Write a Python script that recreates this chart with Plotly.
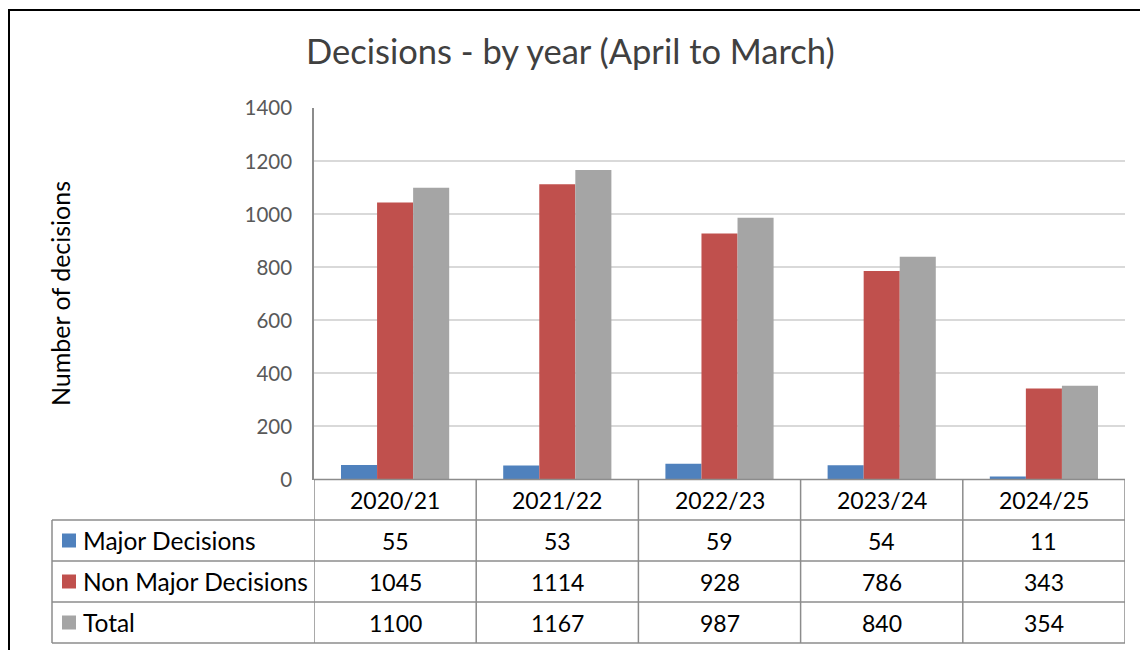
import plotly.graph_objects as go

categories = ["2020/21", "2021/22", "2022/23", "2023/24", "2024/25"]
series_names = ["Major Decisions", "Non Major Decisions", "Total"]
major = [55, 53, 59, 54, 11]
non_major = [1045, 1114, 928, 786, 343]
total = [1100, 1167, 987, 840, 354]
colors = ["#4F81BD", "#C0504D", "#A5A5A5"]
y_ticks = [0, 200, 400, 600, 800, 1000, 1200, 1400]

OFF = 8  # page body margin
W, H = 1148 - OFF, 650 - OFF
FONT = "Lato"

def px(x):
    return (x - OFF) / W

def py(y):
    return 1 - (y - OFF) / H

plot_left, plot_right = 314, 1125
plot_top, plot_bottom = 108.3, 479.5
row_lines = [479.5, 520, 561, 602, 643]
table_left = 52
grid_col = "#8C8C8C"

fig = go.Figure()
all_series = [major, non_major, total]
for name, vals, col in zip(series_names, all_series, colors):
    fig.add_trace(go.Bar(x=categories, y=vals, name=name, marker=dict(color=col, line=dict(width=0))))

shapes = []
annotations = []

# outer frame
shapes.append(dict(type="rect", xref="paper", yref="paper", x0=px(9), x1=px(1170), y0=py(10), y1=py(700),
                   line=dict(color="black", width=2), fillcolor="rgba(0,0,0,0)", layer="above"))

# table horizontal lines
shapes.append(dict(type="line", xref="x", yref="paper", x0=-0.5, x1=len(categories) - 0.5,
                   y0=py(row_lines[0]), y1=py(row_lines[0]), line=dict(color=grid_col, width=1.5)))
for yy in row_lines[1:]:
    shapes.append(dict(type="line", xref="paper", yref="paper", x0=px(table_left), x1=px(plot_right),
                       y0=py(yy), y1=py(yy), line=dict(color=grid_col, width=1.5)))
shapes.append(dict(type="line", xref="paper", yref="paper", x0=px(table_left), x1=px(table_left),
                   y0=py(row_lines[1]), y1=py(row_lines[-1]), line=dict(color=grid_col, width=1.5)))
for i in range(len(categories) + 1):
    shapes.append(dict(type="line", xref="x", yref="paper", x0=i - 0.5, x1=i - 0.5,
                       y0=py(row_lines[0]), y1=py(row_lines[-1]), line=dict(color=grid_col, width=1.5)))

for c in categories:
    annotations.append(dict(x=c, xref="x", y=py((row_lines[0] + row_lines[1]) / 2), yref="paper",
                            text=c, showarrow=False, font=dict(family=FONT, size=23, color="black"),
                            xanchor="center", yanchor="middle"))
for r, (name, vals, col) in enumerate(zip(series_names, all_series, colors)):
    yc = (row_lines[r + 1] + row_lines[r + 2]) / 2
    shapes.append(dict(type="rect", xref="paper", yref="paper", x0=px(62), x1=px(76),
                       y0=py(yc - 7), y1=py(yc + 7), fillcolor=col, line=dict(width=0)))
    annotations.append(dict(x=px(81), xref="paper", y=py(yc), yref="paper", text=name, showarrow=False,
                            font=dict(family=FONT, size=24.5, color="black"), xanchor="left", yanchor="middle"))
    for c, v in zip(categories, vals):
        annotations.append(dict(x=c, xref="x", y=py(yc), yref="paper", text=str(v), showarrow=False,
                                font=dict(family=FONT, size=23, color="black"),
                                xanchor="center", yanchor="middle"))

annotations.append(dict(x=px(570), xref="paper", y=py(50), yref="paper", text="Decisions - by year (April to March)",
                        showarrow=False, font=dict(family=FONT, size=34.5, color="#404040"),
                        xanchor="center", yanchor="middle"))
annotations.append(dict(x=px(60), xref="paper", y=py(294), yref="paper", text="Number of decisions",
                        showarrow=False, textangle=-90, font=dict(family=FONT, size=25, color="black"),
                        xanchor="center", yanchor="middle"))

fig.update_layout(
    template="none",
    width=W, height=H, autosize=False,
    margin=dict(l=0, r=0, t=0, b=0, pad=0, autoexpand=False),
    paper_bgcolor="white", plot_bgcolor="white",
    barmode="group", bargap=0.333, bargroupgap=0,
    showlegend=False,
    shapes=shapes, annotations=annotations,
    xaxis=dict(domain=[px(plot_left), px(plot_right)], showticklabels=False, showgrid=False,
               showline=False, zeroline=False, ticks="", automargin=False,
               range=[-0.5, len(categories) - 0.5]),
    yaxis=dict(domain=[py(plot_bottom), py(plot_top)], range=[0, 1400], tickvals=y_ticks,
               showgrid=True, gridcolor="#D9D9D9", gridwidth=1.5, zeroline=False, automargin=False,
               showline=True, linecolor=grid_col, linewidth=1.5, ticks="",
               tickfont=dict(family=FONT, size=20.5, color="#595959"), ticklabelstandoff=16),
)

fig.write_html("out.html")
